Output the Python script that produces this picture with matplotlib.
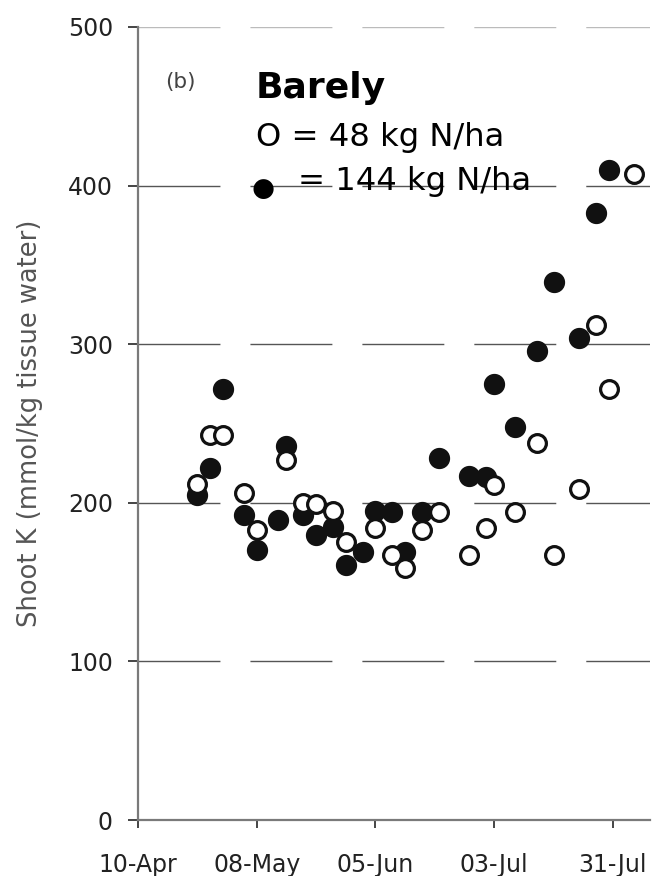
import matplotlib
matplotlib.use("Agg")
import matplotlib.pyplot as plt
import matplotlib.dates as mdates
import pandas as pd

# shoot K in barley, two N rates
high_n_dates = ["04-24", "04-27", "04-30", "05-05", "05-08", "05-13", "05-15",
                "05-19", "05-22", "05-26", "05-29", "06-02", "06-05", "06-09",
                "06-12", "06-16", "06-20", "06-27", "07-01", "07-03", "07-08",
                "07-13", "07-17", "07-23", "07-27", "07-30"]
high_n_k = [205, 222, 272, 192, 170, 189, 236, 192, 180, 185, 161, 169, 195,
            194, 169, 194, 228, 217, 216, 275, 248, 296, 339, 304, 383, 410]

low_n_dates = ["04-24", "04-27", "04-30", "05-05", "05-08", "05-15", "05-19",
               "05-22", "05-26", "05-29", "06-05", "06-09", "06-12", "06-16",
               "06-20", "06-27", "07-01", "07-03", "07-08", "07-13", "07-17",
               "07-23", "07-27", "07-30", "08-05"]
low_n_k = [212, 243, 243, 206, 183, 227, 200, 199, 195, 175, 184, 167, 159,
           183, 194, 167, 184, 211, 194, 238, 167, 209, 312, 272, 407]

tick_dates = ["04-10", "05-08", "06-05", "07-03", "07-31"]
y_ticks = [0, 100, 200, 300, 400, 500]
year = "2001-"

def to_dates(days):
    return pd.to_datetime([year + d for d in days])

plt.rcParams["font.family"] = "DejaVu Sans"

fig = plt.figure(figsize=(6.58, 8.76), dpi=100)
ax = fig.add_axes([0.2097, 0.0639, 0.778, 0.9053])

ax.plot(to_dates(high_n_dates), high_n_k, "o", ms=14.3, mfc="#111111",
        mec="#111111", mew=1, zorder=3)
ax.plot(to_dates(low_n_dates), low_n_k, "o", ms=12.8, mfc="white",
        mec="#111111", mew=2.3, zorder=4)

ax.set_xlim(pd.Timestamp(year + "04-10"), pd.Timestamp(year + "08-08") + pd.Timedelta(hours=17))
ax.set_ylim(0, 500)
ax.set_xticks(to_dates(tick_dates))
ax.xaxis.set_major_formatter(mdates.DateFormatter("%d-%b"))
ax.set_yticks(y_ticks)

for side in ["top", "right"]:
    ax.spines[side].set_visible(False)
for side in ["left", "bottom"]:
    ax.spines[side].set_color("#7a7a7a")
    ax.spines[side].set_linewidth(1.6)

ax.tick_params(axis="x", length=6, width=1.4, color="#444444", pad=18,
               labelsize=17, labelcolor="#222222")
ax.tick_params(axis="y", length=7, width=1.4, color="#444444", pad=11,
               labelsize=17, labelcolor="#222222")

ax.set_axisbelow(True)
ax.yaxis.grid(True, linestyle=(0, (59, 21.6)), color="#555555", linewidth=1.0)
grid = ax.get_ygridlines()
grid[0].set_visible(False)
grid[-1].set_color("#bbbbbb")

ax.set_ylabel("Shoot K (mmol/kg tissue water)", fontsize=18.5, color="#555555")
ax.yaxis.set_label_coords(-0.186, 0.5)

ax.text(0.053, 0.923, "(b)", transform=ax.transAxes, fontsize=15.5,
        color="#444444", va="baseline")
ax.text(0.2305, 0.9105, "Barely", transform=ax.transAxes, fontsize=26,
        fontweight="bold", va="baseline", zorder=5)
ax.text(0.2305, 0.850, "O = 48 kg N/ha", transform=ax.transAxes, fontsize=23.2,
        va="baseline", zorder=5)
ax.text(0.244, 0.7995, "\u25cf", transform=ax.transAxes, fontsize=19,
        ha="center", va="center_baseline", zorder=5)
ax.text(0.3125, 0.7945, "= 144 kg N/ha", transform=ax.transAxes, fontsize=23.2,
        va="baseline", zorder=5)

fig.savefig("out.png", dpi=100, facecolor="white")
